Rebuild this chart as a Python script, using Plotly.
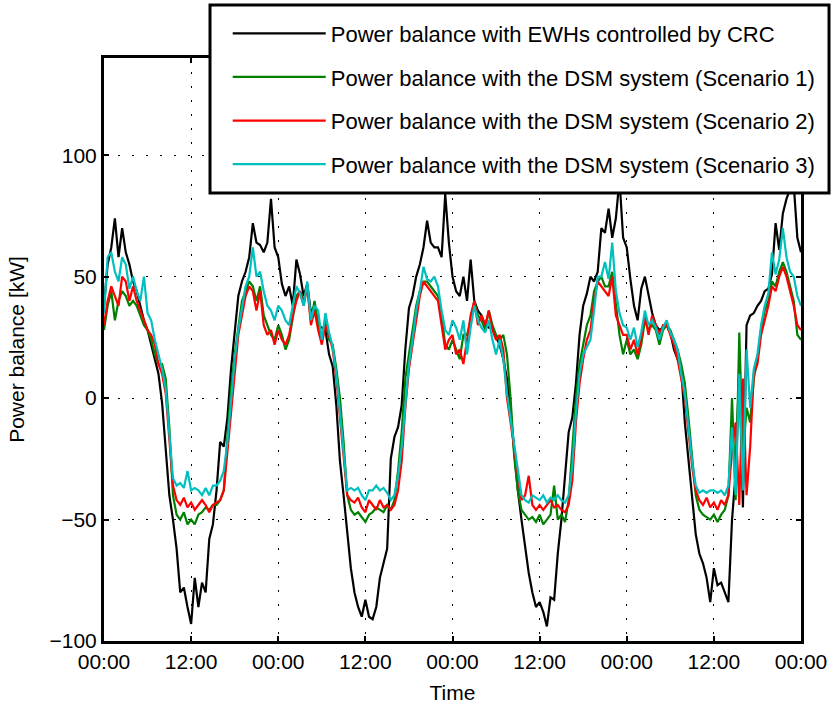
import pandas as pd
import plotly.graph_objects as go

# ---- data (30-min samples over 4 days) ----
start = "2000-01-01 00:00"
n_days = 4
tick_labels = ["00:00", "12:00", "00:00", "12:00", "00:00", "12:00", "00:00", "12:00", "00:00"]
y_ticks = [-100, -50, 0, 50, 100]

names = [
    "Power balance with EWHs controlled by CRC",
    "Power balance with the DSM system (Scenario 1)",
    "Power balance with the DSM system (Scenario 2)",
    "Power balance with the DSM system (Scenario 3)",
]

crc = [
    38, 55, 62, 74, 58, 70, 60, 55, 48, 44, 38, 32, 28, 22, 17, 10, -2, -22, -40, -50,
    -62, -80, -78, -86, -93, -74, -86, -76, -80, -58, -52, -38, -18, -20, -8, 12, 28, 42, 48, 52,
    58, 72, 64, 63, 60, 64, 82, 62,
    58, 47, 42, 46, 38, 57, 51, 42, 47, 35, 38, 30, 29, 28, 18, 13, -3, -26, -40, -55,
    -70, -80, -86, -90, -83, -90, -91, -86, -74, -68, -62, -25, -16, -12, -3, 20, 37, 42, 50, 55,
    62, 73, 64, 62, 62, 58, 84, 64,
    50, 44, 42, 50, 40, 57, 40, 36, 34, 30, 29, 29, 25, 22, 16, 8, -5, -22, -38, -50,
    -62, -72, -80, -86, -84, -88, -94, -82, -83, -64, -50, -30, -14, -8, 6, 26, 38, 43, 50, 48,
    52, 70, 68, 78, 66, 74, 90, 66,
    62, 49, 38, 32, 45, 50, 42, 35, 30, 28, 29, 30, 27, 20, 16, 12, -10, -25, -42, -56,
    -64, -68, -74, -84, -70, -77, -76, -80, -84, -50, -31, 13, -45, 30, 34, 35, 38, 40, 44, 45,
    51, 72, 61, 76, 82, 86, 88, 66, 60,
]

scen1 = [
    28, 38, 44, 32, 40, 44, 42, 38, 40, 38, 34, 30, 28, 24, 18, 14, 14, 8, -12, -40,
    -48, -50, -47, -52, -50, -52, -48, -47, -45, -46, -44, -44, -42, -38, -16, 4, 18, 30, 40, 44,
    48, 46, 40, 46, 34, 30, 26, 24,
    30, 26, 20, 24, 34, 42, 44, 40, 46, 32, 40, 30, 24, 32, 24, 22, 12, 0, -18, -40,
    -46, -48, -47, -49, -51, -48, -47, -45, -46, -47, -44, -46, -42, -30, -14, 8, 18, 28, 38, 44,
    48, 48, 46, 44, 42, 34, 22, 20,
    24, 20, 16, 26, 26, 32, 40, 34, 32, 28, 36, 30, 26, 24, 26, 18, 0, -24, -38, -46,
    -48, -50, -49, -51, -48, -52, -50, -48, -36, -50, -48, -51, -42, -20, 0, 14, 22, 30, 34, 44,
    48, 50, 46, 46, 52, 38, 26, 18,
    24, 18, 20, 16, 22, 32, 28, 30, 28, 22, 28, 30, 28, 24, 20, 14, 6, -8, -24, -40,
    -46, -48, -49, -50, -48, -51, -48, -46, -40, 0, -42, 27, -24, -4, -10, 8, 16, 28, 36, 40,
    48, 46, 52, 56, 52, 46, 40, 26, 24,
]

scen2 = [
    30, 40, 46, 42, 38, 50, 48, 40, 46, 40, 36, 32, 28, 26, 22, 14, 10, 2, -16, -36,
    -42, -44, -41, -45, -43, -46, -44, -42, -44, -47, -44, -43, -42, -38, -22, -4, 12, 26, 34, 42,
    46, 44, 36, 44, 30, 26, 28, 22,
    28, 24, 22, 26, 34, 40, 44, 38, 46, 30, 36, 28, 22, 30, 26, 20, 8, -8, -24, -40,
    -42, -43, -41, -45, -47, -42, -44, -46, -42, -45, -44, -46, -44, -38, -26, -4, 12, 22, 34, 42,
    48, 46, 44, 42, 40, 30, 20, 24,
    26, 18, 20, 14, 24, 34, 40, 30, 34, 30, 36, 28, 24, 26, 20, 0, -10, -20, -32, -42,
    -40, -32, -44, -46, -44, -46, -44, -42, -45, -44, -46, -47, -44, -34, -10, 6, 16, 24, 28, 40,
    48, 46, 44, 42, 50, 34, 30, 26,
    26, 20, 24, 18, 24, 34, 26, 34, 30, 26, 30, 30, 26, 22, 16, 8, 0, -14, -28, -38,
    -42, -44, -41, -45, -43, -46, -42, -44, -40, -22, -10, -44, 8, -40, -20, 10, 14, 26, 32, 38,
    46, 44, 50, 54, 50, 44, 38, 30, 28,
]

scen3 = [
    35, 58, 60, 52, 48, 58, 55, 45, 50, 44, 40, 50, 35, 32, 24, 18, 12, 4, -14, -33,
    -36, -35, -37, -30, -38, -37, -38, -40, -37, -40, -36, -36, -34, -30, -18, 0, 16, 28, 38, 46,
    50, 62, 50, 52, 44, 38, 36, 32,
    38, 36, 32, 30, 38, 46, 43, 38, 48, 32, 38, 36, 24, 35, 27, 21, 10, -5, -22, -38,
    -37, -38, -37, -40, -42, -38, -38, -36, -38, -37, -39, -42, -40, -32, -20, -2, 14, 24, 36, 44,
    54, 49, 48, 50, 46, 36, 28, 26,
    32, 29, 24, 32, 18, 29, 38, 32, 29, 27, 32, 24, 18, 24, 16, 2, -8, -18, -30, -40,
    -42, -43, -40, -41, -42, -40, -43, -41, -42, -40, -42, -43, -40, -28, -6, 10, 18, 21, 24, 36,
    50, 50, 56, 49, 64, 44, 35, 30,
    29, 24, 29, 21, 27, 36, 30, 32, 29, 24, 29, 32, 27, 24, 20, 10, 2, -12, -26, -36,
    -39, -38, -39, -38, -38, -39, -38, -40, -36, -12, -40, 10, -38, 20, -4, 12, 18, 30, 38, 43,
    60, 51, 57, 70, 58, 52, 50, 42, 38,
]

colors = ["#000000", "#008000", "#ff0000", "#00bfbf"]

times = pd.date_range(start, periods=len(crc), freq="30min")
t0 = pd.Timestamp(start)
t_end = t0 + pd.Timedelta(days=n_days)
tick_vals = pd.date_range(t0, t_end, freq="12h")

fig = go.Figure()
for i, (nm, ys, c) in enumerate(zip(names, [crc, scen1, scen2, scen3], colors)):
    fig.add_trace(go.Scatter(
        x=times, y=ys, mode="lines", name=nm, legendgroup=f"g{i}",
        line=dict(color=c, width=2.2),
    ))

font_family = "Liberation Sans, Arial, Helvetica, sans-serif"
axis_common = dict(
    showline=True, linecolor="black", linewidth=3, mirror="ticks",
    ticks="inside", ticklen=5, tickwidth=1.5, tickcolor="black",
    showgrid=True, gridcolor="black", gridwidth=1, griddash="2px,12px",
    zeroline=False, automargin=False,
    tickfont=dict(size=21, color="black", family=font_family),
)

# legend frame (white box with thick black border, partly above the axes)
fig.add_shape(
    type="rect", xref="paper", yref="paper",
    x0=0.1521, x1=1.0402, y0=0.7684, y1=1.0909,
    line=dict(color="black", width=3), fillcolor="white", layer="above",
)

fig.update_layout(
    width=831, height=708,
    margin=dict(l=104, r=30, t=58, b=67, autoexpand=False),
    paper_bgcolor="white", plot_bgcolor="white",
    font=dict(family=font_family, color="black", size=21),
    xaxis=dict(
        type="date", range=[t0, t_end],
        tickvals=list(tick_vals), ticktext=tick_labels,
        title=dict(text="Time", font=dict(size=21), standoff=14),
        **axis_common,
    ),
    yaxis=dict(
        range=[-100, 140], tickvals=y_ticks,
        title=dict(text="Power balance [kW]", font=dict(size=21), standoff=20),
        **axis_common,
    ),
    legend=dict(
        x=0.1775, y=1.078, xanchor="left", yanchor="top",
        bgcolor="rgba(0,0,0,0)", borderwidth=0,
        font=dict(size=22, color="black", family=font_family),
        itemwidth=93, tracegroupgap=12, traceorder="grouped",
    ),
    showlegend=True,
)

fig.write_html("out.html")
